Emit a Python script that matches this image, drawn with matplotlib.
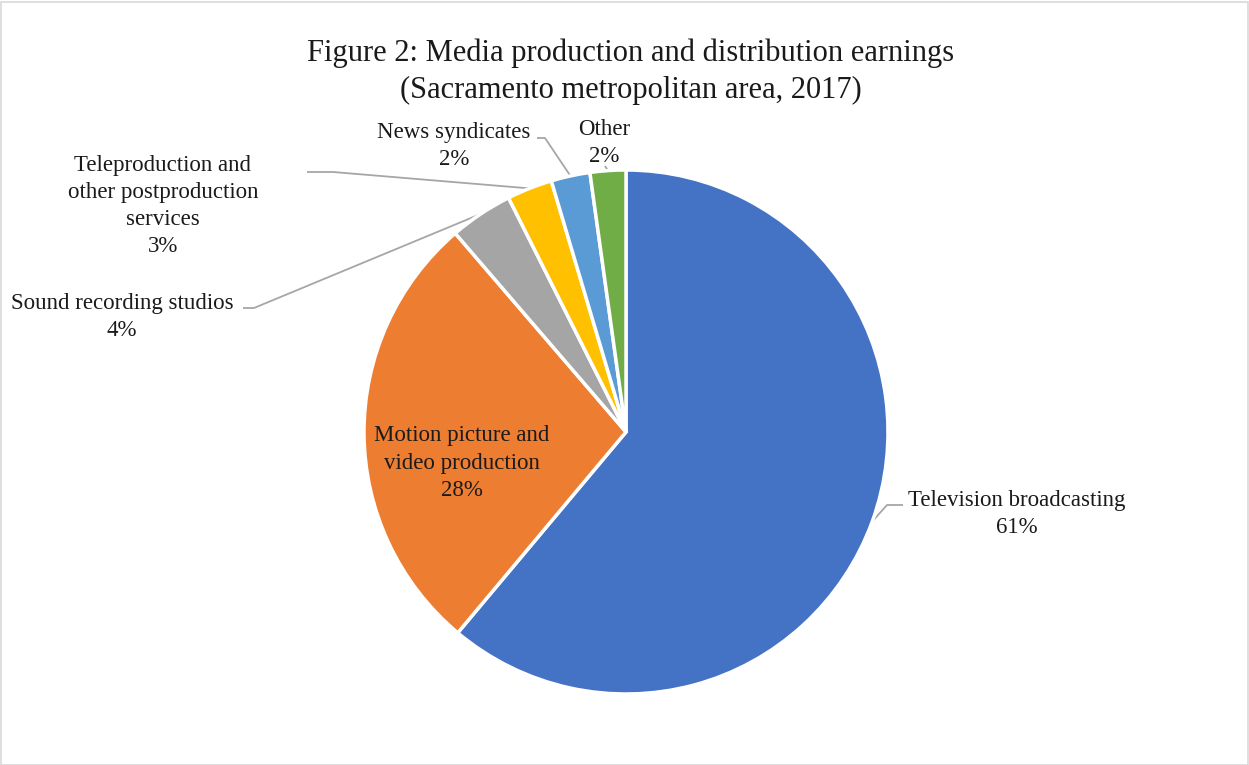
import matplotlib
matplotlib.use("Agg")
import matplotlib.pyplot as plt
import numpy as np
from matplotlib.patches import Rectangle

categories = ["Television broadcasting", "Motion picture and\nvideo production",
              "Sound recording studios", "Teleproduction and\nother postproduction\nservices",
              "News syndicates", "Other"]
shares = [61.1, 27.6, 3.9, 2.8, 2.4, 2.2]
colors = ["#4472C4", "#ED7D31", "#A5A5A5", "#FFC000", "#5B9BD5", "#70AD47"]
title = "Figure 2: Media production and distribution earnings\n(Sacramento metropolitan area, 2017)"

W, H = 1249, 765
plt.rcParams['font.family'] = ['Liberation Serif', 'DejaVu Serif']
fig = plt.figure(figsize=(W / 100, H / 100), dpi=100)
ax = fig.add_axes([0, 0, 1, 1])

def Y(y):
    return H - y

cx, cy, R = 626, Y(432), 262
wedges, _ = ax.pie(shares, startangle=90, counterclock=False, center=(cx, cy), radius=R,
                   colors=colors, wedgeprops=dict(edgecolor='white', linewidth=2.5, joinstyle='miter'))
ax.set_xlim(0, W)
ax.set_ylim(0, H)
ax.set_aspect('equal')
ax.axis('off')

def edge_point(w, frac=1.0):
    a = np.deg2rad((w.theta1 + w.theta2) / 2)
    return cx + R * frac * np.cos(a), cy + R * frac * np.sin(a)

labels = [f"{c}\n{v:.0f}%" for c, v in zip(categories, shares)]
fs = 16.5
# label positions (pixel coordinates, centre of text block)
label_pos = [(1017, 514), (462, 463), (122, 317), (163, 206), (454, 146), (604, 143)]
for lab, (x, y) in zip(labels, label_pos):
    ax.text(x, Y(y), lab, ha='center', va='center', fontsize=fs, color='#1a1a1a',
            linespacing=1.38)

lc = '#A6A6A6'
lw = 1.3
# leader lines: wedge point -> elbow -> end near label
leaders = {
    0: [(887, 505), (903, 505)],
    2: [(254, 308), (243, 308)],
    3: [(333, 172), (307, 172)],
    4: [(545, 138), (537, 138)],
    5: [(605, 166)],
}
for i, pts in leaders.items():
    x0, y0 = edge_point(wedges[i], 1.0)
    xs = [x0] + [p[0] for p in pts]
    ys = [y0] + [Y(p[1]) for p in pts]
    ax.plot(xs, ys, color=lc, lw=lw, solid_capstyle='butt', zorder=0.5)

ax.text(631, Y(72), title, ha='center', va='center', fontsize=22, color='#1a1a1a',
        linespacing=1.38)

fig.patches.append(Rectangle((0.5 / W, 0.5 / H), 1 - 2 / W, 1 - 2 / H, transform=fig.transFigure,
                             fill=False, edgecolor='#D9D9D9', linewidth=1.2))
fig.savefig("out.png", dpi=100, facecolor='white')
